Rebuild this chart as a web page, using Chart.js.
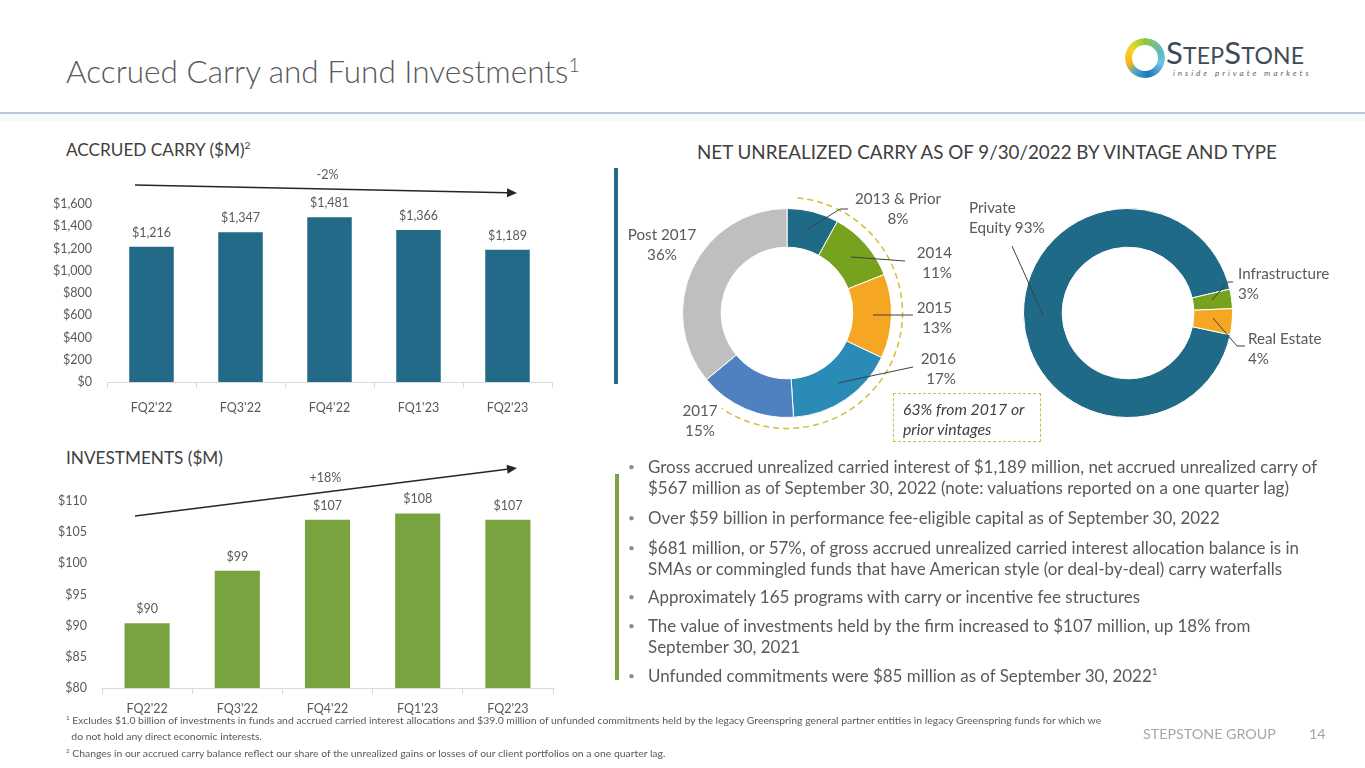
<!DOCTYPE html>
<html><head><meta charset="utf-8">
<script src="https://cdn.jsdelivr.net/npm/chart.js@4.4.0/dist/chart.umd.min.js"></script>
<style>
html,body{margin:0;padding:0;background:#fff;}
body{width:1365px;height:768px;position:relative;overflow:hidden;font-family:Lato,'Open Sans',sans-serif;color:#595959;}
.abs{position:absolute;white-space:nowrap;}
canvas{position:absolute;}
.sec{font-size:17.2px;color:#404040;}
.lbl{position:absolute;font-size:15.2px;line-height:20px;color:#595959;white-space:nowrap;}
.bul{position:absolute;left:628px;font-size:16.95px;line-height:21px;color:#595959;white-space:nowrap;}
.bul span.b{position:absolute;left:0;color:#8c8c8c;font-size:12px;}
.bul div.t{margin-left:20px;}
.fn{position:absolute;left:66px;font-size:10.4px;line-height:16px;color:#595959;white-space:nowrap;}
sup{font-size:60%;line-height:0;vertical-align:super;}
</style></head><body>

<!-- header -->
<div class="abs" style="left:66px;top:52px;font-size:31.5px;font-weight:300;color:#595959;">Accrued Carry and Fund Investments<sup style="font-size:62%">1</sup></div>
<div class="abs" style="left:0;top:112px;width:1365px;height:2px;background:#B8C9E1;"></div>
<div class="abs" style="left:0;top:114px;width:1365px;height:7px;background:#F7F9FB;"></div>

<!-- logo -->
<div class="abs" style="left:1125px;top:38px;width:40px;height:40px;border-radius:50%;background:conic-gradient(from 0deg,#8DC63F 0deg,#5DB9C9 70deg,#6CC3E0 110deg,#1B75BB 170deg,#49A7C9 215deg,#F7B21D 250deg,#F9D423 300deg,#C5D52A 330deg,#8DC63F 360deg);-webkit-mask:radial-gradient(circle,transparent 12.5px,#000 13.5px);mask:radial-gradient(circle,transparent 12.5px,#000 13.5px);"></div>
<div class="abs" style="left:1166px;top:33px;color:#3D4C58;font-size:23px;letter-spacing:0.2px;font-weight:400;"><span style="font-size:31px">S</span>TEP<span style="font-size:31px">S</span>TONE</div>
<div class="abs" style="left:1173px;top:68px;color:#5A6670;font-size:8px;font-style:italic;letter-spacing:3px;">inside private markets</div>

<!-- left section titles -->
<div class="abs sec" style="left:66px;top:139px;">ACCRUED CARRY ($M)<sup>2</sup></div>
<div class="abs sec" style="left:66px;top:447px;">INVESTMENTS ($M)</div>

<canvas id="c1" width="515" height="260" style="left:50px;top:160px;width:515px;height:260px;"></canvas>
<canvas id="c2" width="515" height="271" style="left:50px;top:455px;width:515px;height:271px;"></canvas>

<!-- right title -->
<div class="abs sec" style="left:697px;top:140px;font-size:18.8px;">NET UNREALIZED CARRY AS OF 9/30/2022 BY VINTAGE AND TYPE</div>

<!-- separators -->
<div class="abs" style="left:614px;top:168px;width:4px;height:216px;background:#236A88;"></div>
<div class="abs" style="left:615px;top:474px;width:4px;height:206px;background:#78A33F;"></div>

<canvas id="d1" width="260" height="260" style="left:657px;top:183px;width:260px;height:260px;"></canvas>
<canvas id="d2" width="260" height="260" style="left:998px;top:183px;width:260px;height:260px;"></canvas>

<!-- leader lines -->
<svg class="abs" style="left:0;top:0;" width="1365" height="768">
  <g stroke="#404040" stroke-width="1" fill="none">
    <polyline points="808,229 840,209 848,209"/>
    <line x1="851" y1="257" x2="905" y2="261"/>
    <line x1="873" y1="315" x2="913" y2="315"/>
    <line x1="838" y1="383" x2="913" y2="367"/>
    <line x1="1012" y1="246" x2="1043" y2="315"/>
    <polyline points="1212,300 1228,282 1233,282"/>
    <polyline points="1213,318 1237,346 1245,346"/>
  </g>
</svg>

<!-- donut labels -->
<div class="lbl" style="left:851px;top:188px;text-align:center;width:94px;">2013 &amp; Prior<br>8%</div>
<div class="lbl" style="left:904px;top:242px;text-align:right;width:48px;">2014<br>11%</div>
<div class="lbl" style="left:904px;top:297px;text-align:right;width:48px;">2015<br>13%</div>
<div class="lbl" style="left:904px;top:348px;text-align:right;width:52px;">2016<br>17%</div>
<div class="lbl" style="left:678px;top:400px;text-align:center;width:44px;">2017<br>15%</div>
<div class="lbl" style="left:620px;top:224px;text-align:center;width:84px;">Post 2017<br>36%</div>
<div class="lbl" style="left:969px;top:197px;">Private<br>Equity 93%</div>
<div class="lbl" style="left:1238px;top:263px;">Infrastructure<br>3%</div>
<div class="lbl" style="left:1248px;top:328px;">Real Estate<br>4%</div>

<div class="abs" style="left:893px;top:393px;width:146px;height:47px;border:1.5px dashed #D2BF36;"></div>
<div class="lbl" style="left:903px;top:399px;font-style:italic;color:#404040;font-size:15.8px;">63% from 2017 or<br>prior vintages</div>

<!-- bullets -->
<div class="bul" style="top:456px;"><span class="b">•</span><div class="t">Gross accrued unrealized carried interest of $1,189 million, net accrued unrealized carry of<br>$567 million as of September 30, 2022 (note: valuations reported on a one quarter lag)</div></div>
<div class="bul" style="top:507px;"><span class="b">•</span><div class="t">Over $59 billion in performance fee-eligible capital as of September 30, 2022</div></div>
<div class="bul" style="top:537px;"><span class="b">•</span><div class="t">$681 million, or 57%, of gross accrued unrealized carried interest allocation balance is in<br>SMAs or commingled funds that have American style (or deal-by-deal) carry waterfalls</div></div>
<div class="bul" style="top:586px;"><span class="b">•</span><div class="t">Approximately 165 programs with carry or incentive fee structures</div></div>
<div class="bul" style="top:615px;"><span class="b">•</span><div class="t">The value of investments held by the firm increased to $107 million, up 18% from<br>September 30, 2021</div></div>
<div class="bul" style="top:665px;"><span class="b">•</span><div class="t">Unfunded commitments were $85 million as of September 30, 2022<sup>1</sup></div></div>

<!-- footnotes -->
<div class="fn" style="top:712px;"><sup>1</sup> Excludes $1.0 billion of investments in funds and accrued carried interest allocations and $39.0 million of unfunded commitments held by the legacy Greenspring general partner entities in legacy Greenspring funds for which we<br>&nbsp;&nbsp;do not hold any direct economic interests.</div>
<div class="fn" style="top:745px;"><sup>2</sup> Changes in our accrued carry balance reflect our share of the unrealized gains or losses of our client portfolios on a one quarter lag.</div>
<div class="abs" style="left:1143px;top:725px;font-size:14.3px;color:#A6A6A6;">STEPSTONE GROUP</div>
<div class="abs" style="left:1309px;top:725px;font-size:14.3px;color:#A6A6A6;">14</div>

<script>
// ---- data ----
const quarters = ["FQ2'22", "FQ3'22", "FQ4'22", "FQ1'23", "FQ2'23"];
const accruedCarry = [1216, 1347, 1481, 1366, 1189];
const investments = [90.4, 98.8, 107.0, 108.0, 107.0];
const carryTickRange = [0, 1600, 200];
const investTickRange = [80, 110, 5];
const carryChangeLabel = "-2%";
const investChangeLabel = "+18%";
const vintageLabels = ["2013 & Prior", "2014", "2015", "2016", "2017", "Post 2017"];
const vintageShares = [8, 11, 13, 17, 15, 36];
const typeLabels = ["Private Equity", "Infrastructure", "Real Estate"];
const typeShares = [93, 3, 4];

const TEAL = '#226A88', GREEN = '#78A33F';
const FONT = "Lato, 'Open Sans', sans-serif";
Chart.defaults.font.family = FONT;
Chart.defaults.color = '#595959';

const money = v => '$' + Math.round(v).toLocaleString('en-US');

const valueLabels = {
  id: 'valueLabels',
  afterDatasetsDraw(chart) {
    const ctx = chart.ctx;
    const meta = chart.getDatasetMeta(0);
    ctx.save();
    ctx.font = '12.5px ' + FONT;
    ctx.fillStyle = '#595959';
    ctx.textAlign = 'center';
    ctx.textBaseline = 'middle';
    meta.data.forEach((bar, i) => {
      ctx.fillText(money(chart.data.datasets[0].data[i]), bar.x, bar.y - 14);
    });
    ctx.restore();
  }
};

function trendArrow(opts) {
  return {
    id: 'trendArrow',
    afterDraw(chart) {
      const a = chart.chartArea, ctx = chart.ctx;
      const x1 = a.left + opts.dx1, x2 = a.right - opts.dx2;
      const y1 = a.top + opts.dy1, y2 = a.top + opts.dy2;
      ctx.save();
      ctx.strokeStyle = '#262626'; ctx.fillStyle = '#262626'; ctx.lineWidth = 1.5;
      const ang = Math.atan2(y2 - y1, x2 - x1);
      const hx = x2 - 10 * Math.cos(ang), hy = y2 - 10 * Math.sin(ang);
      ctx.beginPath(); ctx.moveTo(x1, y1); ctx.lineTo(hx, hy); ctx.stroke();
      ctx.beginPath();
      ctx.moveTo(x2, y2);
      ctx.lineTo(hx + 4.5 * Math.sin(ang), hy - 4.5 * Math.cos(ang));
      ctx.lineTo(hx - 4.5 * Math.sin(ang), hy + 4.5 * Math.cos(ang));
      ctx.closePath(); ctx.fill();
      ctx.font = '12.5px ' + FONT; ctx.fillStyle = '#595959';
      ctx.textAlign = 'center'; ctx.textBaseline = 'middle';
      ctx.fillText(opts.text, (a.left + a.right) / 2 - 2, a.top + opts.ty);
      ctx.restore();
    }
  };
}

function barChart(id, data, color, range, yWidth, padTop, padRight, xPad, arrow) {
  return new Chart(document.getElementById(id), {
    type: 'bar',
    data: { labels: quarters, datasets: [{ data: data, backgroundColor: color, barPercentage: 0.5, categoryPercentage: 1 }] },
    options: {
      responsive: false, animation: false,
      layout: { padding: { top: padTop, right: padRight, left: 0, bottom: 0 } },
      plugins: { legend: { display: false }, tooltip: { enabled: false } },
      scales: {
        x: {
          grid: { display: true, drawOnChartArea: false, drawTicks: true, tickLength: 6, color: '#D9D9D9', offset: true },
          border: { display: true, color: '#D9D9D9' },
          ticks: { font: { size: 12.5 }, color: '#595959', padding: xPad },
          afterFit(s) { s.height = 38; }
        },
        y: {
          min: range[0], max: range[1],
          grid: { display: false, drawTicks: false },
          border: { display: false },
          ticks: { stepSize: range[2], font: { size: 12.5 }, color: '#595959', padding: 15, callback: v => money(v) },
          afterFit(s) { s.width = yWidth; }
        }
      }
    },
    plugins: [valueLabels, trendArrow(arrow)]
  });
}

barChart('c1', accruedCarry, TEAL, carryTickRange, 57, 44, 13, 12,
  { dx1: 28, dx2: 35, dy1: -19, dy2: -11, ty: -29, text: carryChangeLabel });
barChart('c2', investments, GREEN, investTickRange, 52, 46, 12, 7,
  { dx1: 33, dx2: 36, dy1: 15, dy2: -33, ty: -23, text: investChangeLabel });

const dashedArc = {
  id: 'dashedArc',
  afterDraw(chart) {
    const arcs = chart.getDatasetMeta(0).data;
    const c = arcs[0], ctx = chart.ctx;
    ctx.save();
    ctx.strokeStyle = '#D2BF36'; ctx.lineWidth = 1.5; ctx.setLineDash([6, 4]);
    ctx.beginPath();
    ctx.arc(c.x, c.y, c.outerRadius + 11, arcs[0].startAngle + 0.09, arcs[4].endAngle - 0.28);
    ctx.stroke();
    ctx.restore();
  }
};

new Chart(document.getElementById('d1'), {
  type: 'doughnut',
  data: { labels: vintageLabels, datasets: [{ data: vintageShares,
    backgroundColor: ['#1F6A87', '#76A21E', '#F5A623', '#2A8CB6', '#4F80BF', '#BFBFBF'],
    borderColor: '#fff', borderWidth: 1 }] },
  options: { responsive: false, animation: false, cutout: '63%',
    layout: { padding: 25 },
    plugins: { legend: { display: false }, tooltip: { enabled: false } } },
  plugins: [dashedArc]
});

new Chart(document.getElementById('d2'), {
  type: 'doughnut',
  data: { labels: typeLabels, datasets: [{ data: typeShares,
    backgroundColor: ['#1F6A87', '#76A21E', '#F5A623'],
    borderColor: '#fff', borderWidth: 1 }] },
  options: { responsive: false, animation: false, cutout: '63%', rotation: 102,
    layout: { padding: 25 },
    plugins: { legend: { display: false }, tooltip: { enabled: false } } }
});
</script>
</body></html>
